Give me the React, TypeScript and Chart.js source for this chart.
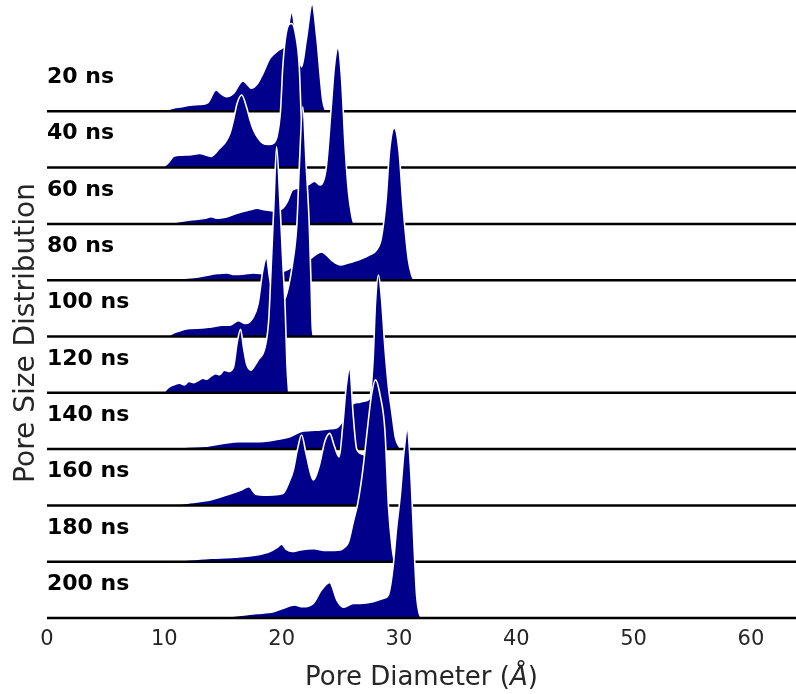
import React, { useEffect, useRef } from "react";
import { Chart, registerables } from "chart.js";

Chart.register(...registerables);

// ---- data ----
const ROW_LABELS = ["20 ns", "40 ns", "60 ns", "80 ns", "100 ns", "120 ns", "140 ns", "160 ns", "180 ns", "200 ns"];
const X_TICKS = [0, 10, 20, 30, 40, 50, 60];
const X_MIN = 0;
const X_MAX = 63.84;
const Y_MAX = 10.977;

const X_20 = [9.9, 10.8, 11.5, 12.2, 13.0, 13.7, 14.4, 14.9, 15.3, 15.9, 16.7, 17.1, 17.4, 17.9, 18.4, 19.0, 19.7, 20.3, 20.5, 20.85, 21.3, 21.7, 22.1, 22.6, 23.0, 23.3, 23.5, 23.75];
const D_20 = [0, 0.06, 0.08, 0.11, 0.12, 0.15, 0.38, 0.3, 0.26, 0.32, 0.54, 0.47, 0.41, 0.48, 0.67, 0.94, 1.08, 1.2, 1.4, 1.75, 1.21, 0.79, 1.27, 1.9, 1.3, 0.6, 0.2, 0];

const X_40 = [9.9, 10.4, 10.8, 11.5, 12.3, 13.0, 13.6, 14.0, 14.7, 15.2, 15.6, 15.9, 16.2, 16.6, 17.0, 17.3, 17.6, 18.0, 18.4, 18.9, 19.3, 19.6, 19.9, 20.1, 20.4, 20.85, 21.2, 21.5, 21.65, 21.8, 21.9];
const D_40 = [0, 0.1, 0.2, 0.22, 0.23, 0.25, 0.22, 0.2, 0.34, 0.45, 0.61, 0.85, 1.14, 1.29, 1.08, 0.85, 0.67, 0.52, 0.43, 0.41, 0.43, 0.55, 1.0, 1.8, 2.4, 2.56, 2.35, 1.8, 1.0, 0.3, 0];

const X_60 = [10.0, 11.0, 12.2, 13.5, 14.0, 14.5, 15.2, 16.2, 17.3, 17.9, 18.5, 19.3, 20.1, 20.5, 20.9, 21.3, 21.8, 22.3, 22.8, 23.3, 23.8, 24.2, 24.5, 24.8, 25.1, 25.4, 25.7, 26.0, 26.15];
const D_60 = [0, 0.03, 0.07, 0.1, 0.13, 0.1, 0.12, 0.19, 0.25, 0.28, 0.25, 0.23, 0.28, 0.4, 0.6, 0.63, 0.65, 0.7, 0.76, 0.69, 1.0, 2.0, 2.8, 3.12, 2.6, 1.4, 0.55, 0.12, 0];

const X_80 = [10.5, 11.5, 12.5, 13.7, 14.2, 14.7, 15.3, 16.0, 16.8, 17.6, 18.2, 19.0, 20.0, 20.6, 21.2, 21.8, 22.5, 23.0, 23.4, 23.8, 24.3, 25.0, 25.6, 26.1, 26.8, 27.5, 28.1, 28.5, 28.9, 29.2, 29.6, 30.0, 30.35, 30.8, 31.1, 31.3];
const D_80 = [0, 0.03, 0.05, 0.09, 0.11, 0.12, 0.13, 0.1, 0.11, 0.13, 0.12, 0.12, 0.15, 0.2, 0.3, 0.35, 0.39, 0.47, 0.5, 0.45, 0.35, 0.27, 0.3, 0.33, 0.38, 0.45, 0.54, 0.75, 1.42, 2.3, 2.7, 2.3, 1.3, 0.36, 0.08, 0];

const X_100 = [10.2, 11.0, 12.2, 13.2, 14.0, 15.0, 15.6, 16.3, 16.9, 17.6, 18.0, 18.4, 18.7, 19.0, 19.4, 19.9, 20.3, 20.6, 20.9, 21.3, 21.5, 21.8, 22.1, 22.35, 22.5, 22.6, 22.7];
const D_100 = [0, 0.08, 0.145, 0.15, 0.17, 0.2, 0.2, 0.28, 0.23, 0.35, 0.59, 1.18, 1.39, 1.0, 0.7, 0.62, 0.68, 0.9, 1.25, 2.0, 3.0, 4.08, 3.0, 2.0, 1.0, 0.2, 0];

const X_120 = [9.9, 10.4, 10.8, 11.3, 11.7, 12.1, 12.5, 12.9, 13.3, 13.6, 14.0, 14.4, 14.7, 15.1, 15.5, 15.9, 16.2, 16.5, 16.75, 17.0, 17.4, 17.7, 18.0, 18.6, 18.9, 19.1, 19.35, 19.57, 19.85, 20.1, 20.3, 20.45, 20.6];
const D_120 = [0, 0.1, 0.14, 0.17, 0.14, 0.2, 0.18, 0.22, 0.26, 0.24, 0.3, 0.34, 0.32, 0.4, 0.38, 0.46, 0.88, 1.13, 0.8, 0.52, 0.4, 0.48, 0.58, 0.82, 1.3, 2.2, 3.4, 4.37, 3.4, 2.3, 1.5, 0.5, 0];

const X_140 = [10.5, 12.0, 13.5, 15.0, 16.4, 17.9, 19.3, 20.7, 21.6, 22.5, 23.3, 24.0, 24.7, 25.2, 25.7, 26.2, 26.6, 27.0, 27.5, 27.8, 28.0, 28.25, 28.5, 28.8, 29.1, 29.4, 29.7, 30.0, 30.2];
const D_140 = [0, 0.04, 0.05, 0.1, 0.13, 0.13, 0.16, 0.22, 0.31, 0.33, 0.34, 0.36, 0.38, 0.5, 0.7, 0.82, 0.83, 0.85, 0.9, 1.6, 2.6, 3.09, 2.7, 1.8, 1.1, 0.64, 0.2, 0.05, 0];

const X_160 = [10.2, 12.0, 14.0, 15.1, 16.5, 17.2, 17.8, 18.8, 20.1, 20.6, 21.0, 21.35, 21.7, 22.1, 22.7, 23.2, 23.7, 24.1, 24.5, 24.9, 25.2, 25.5, 25.8, 26.1, 26.4, 27.0, 27.6, 28.2, 28.6];
const D_160 = [0, 0.04, 0.1, 0.17, 0.27, 0.33, 0.2, 0.18, 0.21, 0.4, 0.63, 1.0, 1.25, 0.9, 0.45, 0.7, 1.15, 1.28, 1.05, 0.86, 1.4, 2.1, 2.44, 1.6, 1.0, 0.9, 0.7, 0.3, 0];

const X_180 = [10.0, 12.0, 14.0, 16.0, 17.9, 19.0, 19.6, 20.0, 20.4, 20.9, 21.6, 22.7, 23.8, 25.0, 25.4, 25.7, 26.1, 26.5, 26.9, 27.3, 27.65, 28.0, 28.4, 28.8, 29.1, 29.4, 29.6];
const D_180 = [0, 0.03, 0.06, 0.08, 0.12, 0.18, 0.25, 0.31, 0.22, 0.18, 0.21, 0.23, 0.2, 0.21, 0.26, 0.35, 0.7, 1.05, 1.6, 2.34, 2.95, 3.23, 2.95, 2.34, 1.0, 0.27, 0];

const X_200 = [12.0, 15.0, 17.9, 19.3, 20.1, 21.1, 21.8, 22.7, 23.4, 24.1, 24.7, 25.3, 26.1, 26.7, 27.8, 28.7, 29.1, 29.5, 29.8, 30.1, 30.45, 30.7, 31.0, 31.3, 31.5, 31.7, 31.9];
const D_200 = [0, 0.02, 0.08, 0.11, 0.17, 0.23, 0.2, 0.26, 0.5, 0.63, 0.32, 0.19, 0.26, 0.26, 0.29, 0.35, 0.41, 0.91, 1.6, 2.15, 3.0, 3.34, 2.6, 1.2, 0.4, 0.1, 0];

const ROW_X = [X_20, X_40, X_60, X_80, X_100, X_120, X_140, X_160, X_180, X_200];
const ROW_D = [D_20, D_40, D_60, D_80, D_100, D_120, D_140, D_160, D_180, D_200];

const X_TITLE_MAIN = "Pore Diameter (";
const X_TITLE_UNIT = "Å";
const X_TITLE_END = ")";
const Y_TITLE = "Pore Size Distribution";

const FILL = "#00008b";
const TEXT = "#262626";
const FONT = "'DejaVu Sans', sans-serif";

export default function App() {
  const ref = useRef<HTMLCanvasElement>(null);

  useEffect(() => {
    if (!ref.current) return;
    const n = ROW_LABELS.length;
    const datasets: any[] = [];
    ROW_X.forEach((xs, i) => {
      const offset = n - 1 - i;
      const ds = ROW_D[i];
      datasets.push({
        label: ROW_LABELS[i],
        data: xs.map((x, j) => ({ x, y: offset + ds[j] })),
        borderColor: "#ffffff",
        borderWidth: 1.6,
        backgroundColor: FILL,
        fill: { value: offset },
        pointRadius: 0,
        cubicInterpolationMode: "monotone",
        clip: false,
        order: 1000 - 2 * i,
      });
      datasets.push({
        label: ROW_LABELS[i] + " baseline",
        data: [
          { x: X_MIN, y: offset },
          { x: X_MAX, y: offset },
        ],
        borderColor: "#000000",
        borderWidth: 2.5,
        pointRadius: 0,
        fill: false,
        clip: false,
        order: 999 - 2 * i,
      });
    });

    const textPlugin = {
      id: "ridgeText",
      afterDraw(chart: any) {
        const { ctx, scales } = chart;
        const xs = scales.x;
        const ys = scales.y;
        ctx.save();
        // row labels
        ctx.fillStyle = "#000000";
        ctx.font = `bold 22px ${FONT}`;
        ctx.textAlign = "left";
        ctx.textBaseline = "alphabetic";
        ROW_LABELS.forEach((lab, i) => {
          const offset = n - 1 - i;
          ctx.fillText(lab, xs.getPixelForValue(X_MIN), ys.getPixelForValue(offset + 0.5));
        });
        // x title
        ctx.fillStyle = TEXT;
        const normal = `26px ${FONT}`;
        const italic = `italic 26px ${FONT}`;
        ctx.font = normal;
        const w1 = ctx.measureText(X_TITLE_MAIN).width;
        const w3 = ctx.measureText(X_TITLE_END).width;
        ctx.font = italic;
        const w2 = ctx.measureText(X_TITLE_UNIT).width;
        const cx = (chart.chartArea.left + chart.chartArea.right) / 2;
        let x0 = cx - (w1 + w2 + w3) / 2;
        const by = 685;
        ctx.textAlign = "left";
        ctx.font = normal;
        ctx.fillText(X_TITLE_MAIN, x0, by);
        x0 += w1;
        ctx.font = italic;
        ctx.fillText(X_TITLE_UNIT, x0, by);
        x0 += w2;
        ctx.font = normal;
        ctx.fillText(X_TITLE_END, x0, by);
        // y title
        ctx.translate(27, 333);
        ctx.rotate(-Math.PI / 2);
        ctx.font = `28px ${FONT}`;
        ctx.textAlign = "center";
        ctx.textBaseline = "middle";
        ctx.fillText(Y_TITLE, 0, 0);
        ctx.restore();
      },
    };

    const chart = new Chart(ref.current, {
      type: "line",
      data: { datasets },
      options: {
        animation: false,
        responsive: true,
        maintainAspectRatio: false,
        devicePixelRatio: 1,
        layout: { padding: { left: 47, right: 0, top: 0, bottom: 0 } },
        plugins: { legend: { display: false }, tooltip: { enabled: false } },
        scales: {
          x: {
            type: "linear",
            min: X_MIN,
            max: X_MAX,
            afterBuildTicks: (scale: any) => {
              scale.ticks = X_TICKS.map((v) => ({ value: v }));
            },
            afterFit: (scale: any) => {
              scale.height = 76;
            },
            grid: { display: false, drawTicks: false },
            border: { display: false },
            ticks: {
              color: TEXT,
              font: { family: FONT, size: 21 },
              padding: 9,
              maxRotation: 0,
              autoSkip: false,
            },
          },
          y: {
            type: "linear",
            display: false,
            min: 0,
            max: Y_MAX,
          },
        },
      },
      plugins: [textPlugin],
    } as any);

    return () => chart.destroy();
  }, []);

  return (
    <div style={{ position: "absolute", left: 0, top: 0, width: 796, height: 694 }}>
      <canvas ref={ref} />
    </div>
  );
}
